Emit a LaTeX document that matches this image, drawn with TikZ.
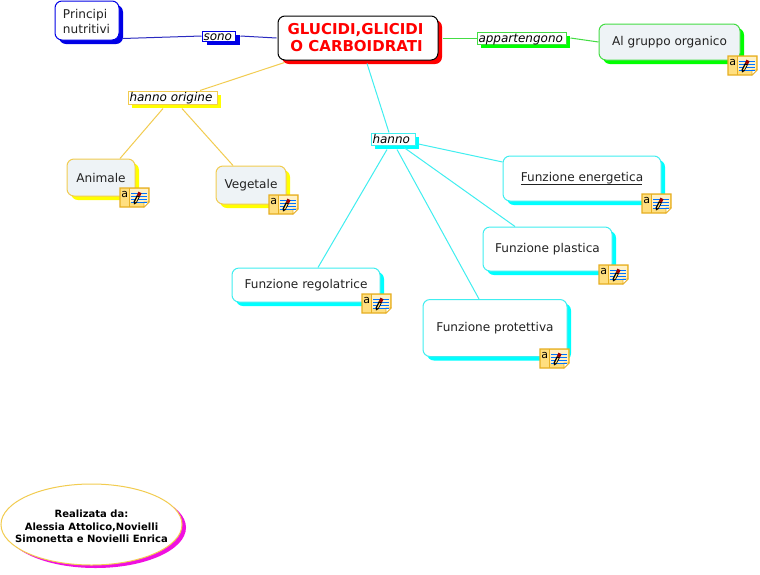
\documentclass[tikz,border=0pt]{standalone}
\usepackage{fontspec}
\setmainfont{DejaVu Sans}
\usetikzlibrary{shadows,shapes.geometric}
\definecolor{cBlue}{HTML}{0000E6}
\definecolor{cBlueLine}{HTML}{2A2AC0}
\definecolor{cYel}{HTML}{FFFF00}
\definecolor{cYelLine}{HTML}{F2CC50}
\definecolor{cCyan}{HTML}{00FFFF}
\definecolor{cCyanLine}{HTML}{40EEF0}
\definecolor{cGreen}{HTML}{00FF00}
\definecolor{cGreenLine}{HTML}{44DD44}
\definecolor{cPale}{HTML}{EEF3F6}
\definecolor{cMag}{HTML}{F010E0}
\definecolor{cNote}{HTML}{FFDF80}
\definecolor{cNoteB}{HTML}{E6AE22}
\definecolor{cInk}{HTML}{222222}
\newcommand{\lbl}[2]{\makebox[#1pt][l]{\kern1.5pt\itshape #2}}
\tikzset{
  x=1pt,y=-1pt,
  every node/.style={text=cInk},
  concept/.style={rectangle,rounded corners=7pt,inner sep=0pt,fill=white,line width=1pt,align=center,font=\fontsize{12.1}{15}\selectfont},
  linkbox/.style={rectangle,inner sep=0pt,fill=white,line width=1pt,font=\fontsize{12}{14}\selectfont,text=black},
  sh/.style={drop shadow={shadow xshift=#1pt,shadow yshift=-4pt,fill=shcol,opacity=1}},
  sh/.default=4,
  link/.style={line width=1pt},
  noteicon/.pic={
    \draw[cNoteB,line width=1.1pt,fill=cNote] (0,0)--(29,0)--(29,14)--(24,19)--(0,19)--cycle;
    \fill[white!55!cNote] (10,1) rectangle (28,14);
    \draw[cNoteB,line width=0.6pt] (9.5,0)--(9.5,19);
    \draw[cNoteB,fill=white,line width=0.6pt] (29,14)--(24,14)--(24,19)--cycle;
    \foreach \yy in {5,8,11,14}{\draw[color=blue!55!cyan,line width=0.8pt] (11,\yy)--(27,\yy);}
    \fill[black] (14,16.5)--(13.6,13.5)--(17,7)--(20,8.5)--(16.5,15)--cycle;
    \fill[cNote] (15,13.8)--(17.6,8.8)--(18.6,9.3)--(16,14.3)--cycle;
    \fill[red!60!black] (17,7)--(18.4,3.6)--(21.6,5.2)--(20,8.5)--cycle;
    \node[inner sep=0pt,text=black,font=\fontsize{11}{11}\selectfont] (glyph) at (4.7,6) {a};
  }
}
\begin{document}
\begin{tikzpicture}
\useasboundingbox (0,0) rectangle (760,574);
\fill[white] (0,0) rectangle (760,574);

% concepts
\colorlet{shcol}{cBlue}
\node[concept,sh,draw=cBlue,minimum width=64pt,minimum height=39pt,align=left] (prin) at (87,20.5) {\hspace*{-1pt}\rule{0pt}{11.5pt}Principi\\\hspace*{-1pt}nutritivi};
\node[linkbox,sh=5,draw=cBlue,minimum width=33pt,minimum height=10pt,text height=9pt,text depth=1pt] (sono) at (218.5,36) {\lbl{33}{sono}};

\colorlet{shcol}{red}
\node[concept,sh,draw=black,minimum width=160pt,minimum height=44pt,text=red,font=\bfseries\fontsize{15}{17}\selectfont] (main) at (358,38) {\hspace*{-5pt}GLUCIDI,GLICIDI\\\hspace*{-3pt}O CARBOIDRATI};

\colorlet{shcol}{cGreen}
\node[linkbox,sh,draw=cGreenLine,minimum width=89pt,minimum height=12pt,text height=10pt,text depth=2pt] (app) at (521.5,38) {\lbl{89}{appartengono}};
\node[concept,sh,draw=cGreenLine,fill=cPale,minimum width=141pt,minimum height=36pt] (grp) at (669.5,42) {Al gruppo organico};

\colorlet{shcol}{cYel}
\node[linkbox,sh,draw=cYelLine,minimum width=89pt,minimum height=13pt,text height=10pt,text depth=3pt] (orig) at (172.5,97.5) {\lbl{89}{hanno origine}};
\node[concept,sh,draw=cYelLine,fill=cPale,minimum width=68pt,minimum height=37pt] (anim) at (101,177.5) {Animale};
\node[concept,sh,draw=cYelLine,fill=cPale,minimum width=70pt,minimum height=38pt] (veg) at (251,185) {Vegetale};

\colorlet{shcol}{cCyan}
\node[linkbox,sh,draw=cCyanLine,minimum width=44pt,minimum height=12pt,text height=10pt,text depth=2pt] (han) at (393,139) {\lbl{44}{hanno}};
\node[concept,sh,draw=cCyanLine,minimum width=158pt,minimum height=45pt] (ener) at (582,178.5) {\makebox[0pt][l]{\rule[-2.6pt]{121pt}{0.8pt}}Funzione energetica};
\node[concept,sh,draw=cCyanLine,minimum width=129pt,minimum height=44pt] (plas) at (547.5,249) {Funzione plastica};
\node[concept,sh,draw=cCyanLine,minimum width=148pt,minimum height=34pt] (rego) at (306,285) {Funzione regolatrice};
\node[concept,sh,draw=cCyanLine,minimum width=144pt,minimum height=57pt] (prot) at (495,328) {Funzione protettiva};

\colorlet{shcol}{cMag}
\node[ellipse,inner sep=0pt,fill=white,draw=cYelLine,line width=1pt,minimum width=181pt,minimum height=81pt,
  drop shadow={shadow xshift=4pt,shadow yshift=-3pt,fill=cMag,opacity=1}] (made) at (91.5,524.5) {};
\node[align=center,inner sep=0pt,text=black,font=\bfseries\fontsize{10}{12.5}\selectfont,yshift=-2pt] (madetext) at (made.center) {Realizata da:\\Alessia Attolico,Novielli\\Simonetta e Novielli Enrica};

% connectors
\draw[link,cBlueLine] ([shift={(3pt,2pt)}]prin.south east) -- (sono.west);
\draw[link,cBlueLine] ([xshift=5pt]sono.east) -- ([xshift=-1pt]main.west);
\draw[link,cYelLine] ([shift={(7pt,-2pt)}]main.south west) -- ([xshift=27.5pt]orig.north);
\draw[link,cYelLine] ([shift={(-9.5pt,-4pt)}]orig.south) -- ([xshift=19pt]anim.north);
\draw[link,cYelLine] ([shift={(9.5pt,-4pt)}]orig.south) -- ([xshift=-18pt]veg.north);
\draw[link,cGreenLine] ([xshift=4pt]main.east) -- (app.west);
\draw[link,cGreenLine] ([xshift=4pt]app.east) -- (grp.west);
\draw[link,cCyanLine] ([shift={(9pt,-3pt)}]main.south) -- ([xshift=-4pt]han.north);
\draw[link,cCyanLine] ([shift={(3pt,-5pt)}]han.east) -- ([yshift=16.5pt]ener.west);
\draw[link,cCyanLine] ([shift={(11pt,-2pt)}]han.south) -- ([xshift=-32.5pt]plas.north);
\draw[link,cCyanLine] ([shift={(4pt,-4pt)}]han.south) -- ([xshift=-16pt]prot.north);
\draw[link,cCyanLine] ([shift={(-6pt,-4pt)}]han.south) -- ([xshift=12pt]rego.north);

% note icons
\pic at (728,56) {noteicon};
\pic at (120,188) {noteicon};
\pic at (269,195) {noteicon};
\pic at (642,194) {noteicon};
\pic at (599,265) {noteicon};
\pic at (362,294) {noteicon};
\pic at (540,349) {noteicon};
\end{tikzpicture}
\end{document}
